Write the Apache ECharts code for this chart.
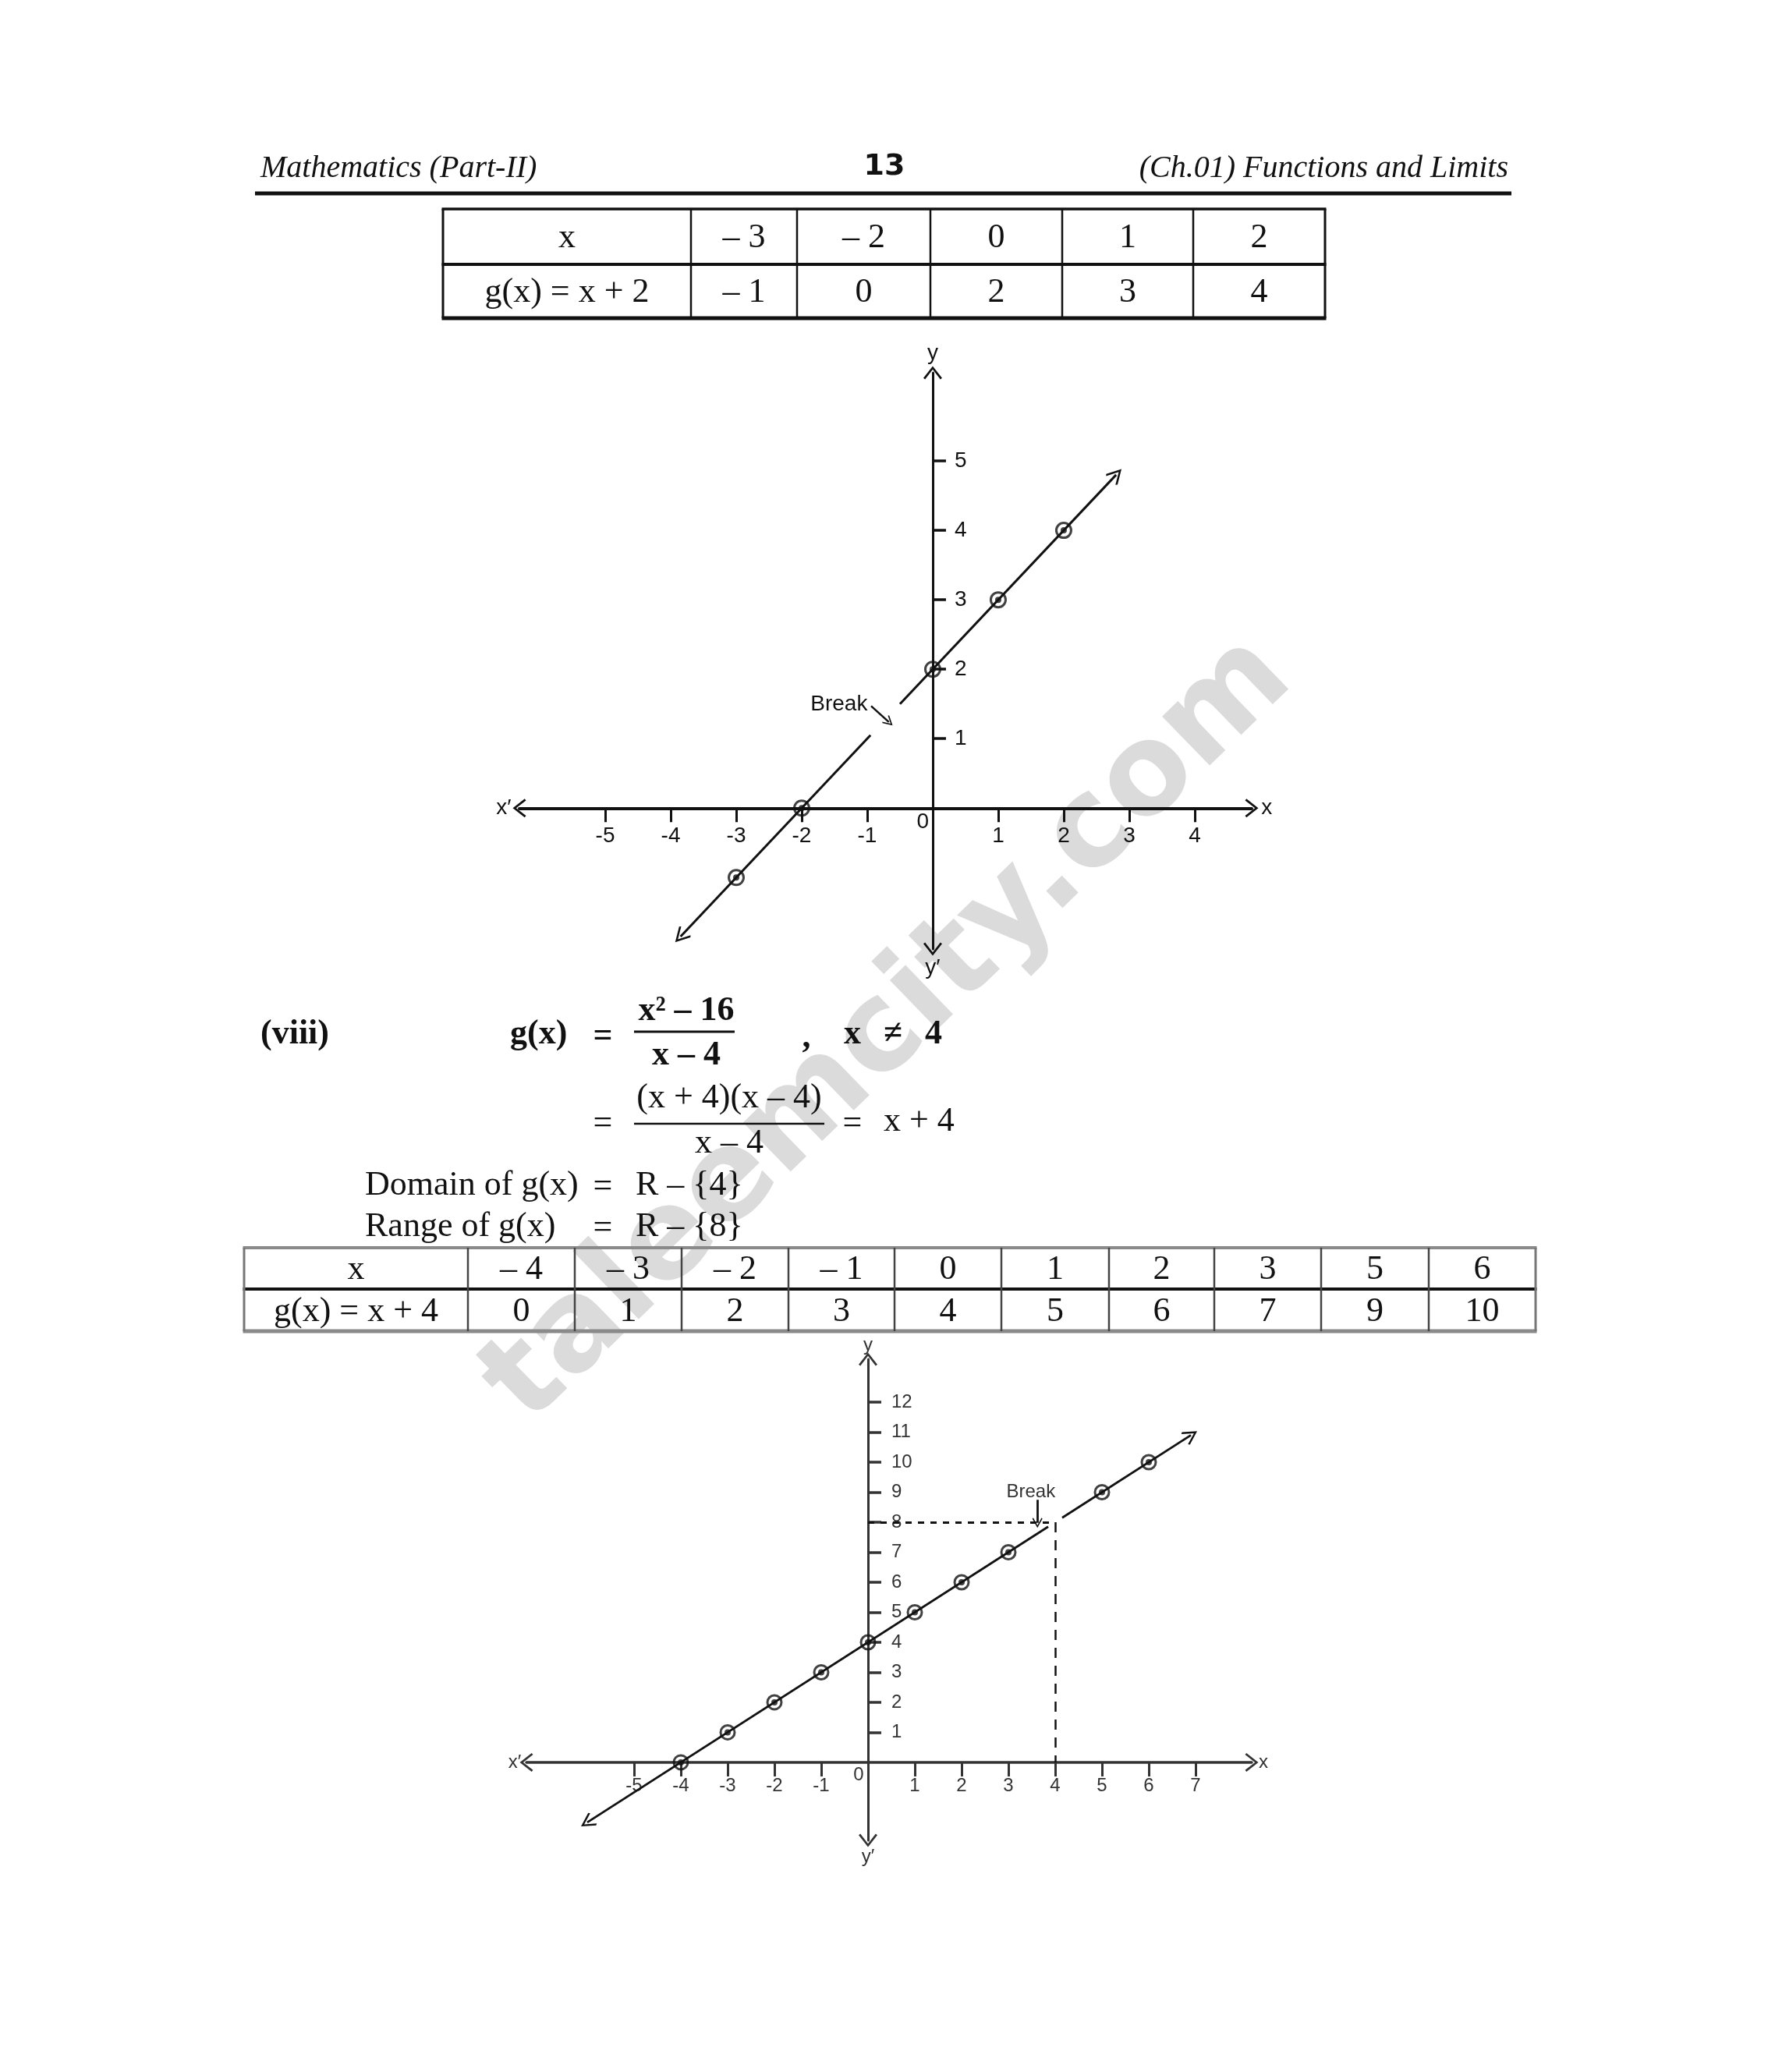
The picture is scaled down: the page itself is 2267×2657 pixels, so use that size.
<!DOCTYPE html>
<html><head><meta charset="utf-8">
<script src="https://cdn.jsdelivr.net/npm/echarts@6/dist/echarts.min.js"></script>
<style>html,body{margin:0;padding:0;background:#fff}#c{width:2267px;height:2657px}</style>
</head><body><div id="c"></div>
<script>
// ---------------- data ----------------
const table1X = [-3, -2, 0, 1, 2];
const table1G = [-1, 0, 2, 3, 4];
const table2X = [-4, -3, -2, -1, 0, 1, 2, 3, 5, 6];
const table2G = [0, 1, 2, 3, 4, 5, 6, 7, 9, 10];
const graph1XTicks = [-5, -4, -3, -2, -1, 1, 2, 3, 4];
const graph1YTicks = [1, 2, 3, 4, 5];
const graph2XTicks = [-5, -4, -3, -2, -1, 1, 2, 3, 4, 5, 6, 7];
const graph2YTicks = [1, 2, 3, 4, 5, 6, 7, 8, 9, 10, 11, 12];
const graph1LineLower = [[-3.85, -1.85], [-0.95, 1.05]];
const graph1LineUpper = [[-0.5, 1.5], [2.8, 4.8]];
const graph1BreakArrow = [[-0.94, 1.47], [-0.67, 1.24]];
const graph2LineLower = [[-6, -2], [3.85, 7.85]];
const graph2LineUpper = [[4.15, 8.15], [6.9, 10.9]];
const graph2GuideH = [[0, 8], [4, 8]];
const graph2GuideV = [[4, 8], [4, 0]];
const graph2BreakArrow = [[3.62, 8.75], [3.62, 7.98]];

// ---------------- layout / style ----------------
const serif = '"Liberation Serif","Times New Roman",serif';
const sans = '"Liberation Sans",Arial,sans-serif';
const ink = '#111';
const chev = 'path://M0,0L11,14L9,15.6L0,4L-9,15.6L-11,14Z';
const fmt = v => v < 0 ? '\u2013 ' + Math.abs(v) : String(v);

const grids = [
  {left: 666, top: 478, width: 939, height: 739, x: [-6.31, 4.87], y: [-2.03, 6.27]},
  {left: 675, top: 1743, width: 930, height: 617, x: [-7.3, 8.2], y: [-2.6, 13.43]}
];

const chart = echarts.init(document.getElementById('c'), null, {renderer: 'canvas'});

function axisX(gi, ticks, fs, margin, lw, color) {
  const gd = grids[gi];
  const off = -((0 - gd.y[0]) / (gd.y[1] - gd.y[0])) * gd.height; // put the axis on y = 0
  return {
    gridIndex: gi, type: 'value', min: gd.x[0], max: gd.x[1], position: 'bottom', offset: off,
    axisLine: {onZero: false, lineStyle: {color: color, width: lw}, symbol: [chev, chev], symbolSize: [24, 17]},
    axisTick: {show: true, customValues: ticks, length: 18, lineStyle: {color: color, width: 3}},
    axisLabel: {customValues: ticks, margin: margin, fontSize: fs, fontFamily: sans, color: color},
    splitLine: {show: false}
  };
}
function axisY(gi, ticks, fs, margin, lw, color) {
  const gd = grids[gi];
  const off = -((0 - gd.x[0]) / (gd.x[1] - gd.x[0])) * gd.width; // put the axis on x = 0
  return {
    gridIndex: gi, type: 'value', min: gd.y[0], max: gd.y[1], position: 'left', offset: off,
    axisLine: {onZero: false, lineStyle: {color: color, width: lw}, symbol: [chev, chev], symbolSize: [24, 17]},
    axisTick: {show: true, inside: true, customValues: ticks, length: 17, lineStyle: {color: color, width: 3.5}},
    axisLabel: {inside: true, customValues: ticks, margin: margin, fontSize: fs, fontFamily: sans, color: color,
                verticalAlign: 'middle'},
    splitLine: {show: false}
  };
}
function pts(xs, ys) { return xs.map((x, i) => [x, ys[i]]); }
function ring(gi, data, size) {
  return [{
    type: 'scatter', xAxisIndex: gi, yAxisIndex: gi, data: data, symbol: 'circle', symbolSize: size, z: 5,
    itemStyle: {color: 'rgba(255,255,255,0)', borderColor: ink, borderWidth: 3}, silent: true
  }, {
    type: 'scatter', xAxisIndex: gi, yAxisIndex: gi, data: data, symbol: 'circle', symbolSize: 8, z: 6,
    itemStyle: {color: ink}, silent: true
  }];
}
function seg(gi, coords, symbols, size, lw, type) {
  return {
    type: 'lines', coordinateSystem: 'cartesian2d', xAxisIndex: gi, yAxisIndex: gi, polyline: false,
    symbol: symbols, symbolSize: size, silent: true, z: 4,
    lineStyle: {color: ink, width: lw, type: type || 'solid', opacity: 1},
    data: [{coords: coords}]
  };
}

const option = {
  backgroundColor: '#fff',
  animation: false,
  grid: grids.map(gd => ({left: gd.left, top: gd.top, width: gd.width, height: gd.height})),
  xAxis: [
    axisX(0, graph1XTicks, 28, 22, 4, ink),
    axisX(1, graph2XTicks, 24, 18, 3.5, '#333')
  ],
  yAxis: [
    axisY(0, graph1YTicks, 28, 28, 3, ink),
    axisY(1, graph2YTicks, 24, 30, 3, '#333')
  ],
  series: [].concat(
    [seg(0, graph1LineLower, [chev, 'none'], 20, 3),
     seg(0, graph1LineUpper, ['none', chev], 20, 3),
     seg(0, graph1BreakArrow, ['none', chev], 13, 2.5)],
    ring(0, pts(table1X, table1G), 19),
    [seg(1, graph2LineLower, [chev, 'none'], 19, 2.8),
     seg(1, graph2LineUpper, ['none', chev], 19, 2.8),
     seg(1, graph2GuideH, ['none', 'none'], 1, 3, [8, 8]),
     seg(1, graph2GuideV, ['none', 'none'], 1, 2.5, [13, 10]),
     seg(1, graph2BreakArrow, ['none', chev], 13, 2.8)],
    ring(1, pts(table2X, table2G), 18)
  )
};
chart.setOption(option);

// ---------------- page text & tables (graphic) ----------------
const g = [];
function text(str, x, y, font, align, fill) {
  g.push({
    type: 'text', x: x, y: y, silent: true,
    style: {text: str, font: font, fill: fill || ink, align: align || 'left', verticalAlign: 'middle',
            textAlign: align || 'left', textVerticalAlign: 'middle'}
  });
}
function line(x1, y1, x2, y2, w, color) {
  g.push({type: 'line', silent: true, shape: {x1: x1, y1: y1, x2: x2, y2: y2},
          style: {stroke: color || ink, lineWidth: w}});
}

// watermark
g.push({type: 'text', x: 1140, y: 1322, rotation: 0.77, z: -10, silent: true,
  style: {text: 'taleemcity.com', font: 'bold 160px "DejaVu Sans",sans-serif', fill: 'rgba(170,170,170,0.42)',
          align: 'center', verticalAlign: 'middle', textAlign: 'center', textVerticalAlign: 'middle'}});

// header
text('Mathematics (Part-II)', 334, 216, 'italic 40px ' + serif, 'left');
text('13', 1134, 214, 'bold 38px "DejaVu Sans",sans-serif', 'center');
text('(Ch.01) Functions and Limits', 1934, 216, 'italic 40px ' + serif, 'right');
line(327, 248, 1938, 248, 5);

// table 1
(function () {
  const cols = [568, 886, 1022, 1193, 1362, 1530, 1699];
  const rows = [268, 339, 408];
  const r1 = ['x'].concat(table1X.map(fmt));
  const r2 = ['g(x) = x + 2'].concat(table1G.map(fmt));
  line(cols[0] - 1.5, rows[0], cols[6] + 1.5, rows[0], 3.5);
  line(cols[0] - 1.5, rows[1], cols[6] + 1.5, rows[1], 4);
  line(cols[0] - 1.5, rows[2], cols[6] + 1.5, rows[2], 5);
  cols.forEach((c, i) => line(c, rows[0], c, rows[2], (i === 0 || i === 6) ? 3 : 2.5));
  for (let i = 0; i < 6; i++) {
    const cx = (cols[i] + cols[i + 1]) / 2;
    text(r1[i], cx, (rows[0] + rows[1]) / 2 + 2, '44px ' + serif, 'center');
    text(r2[i], cx, (rows[1] + rows[2]) / 2 + 2, '44px ' + serif, 'center');
  }
})();

// equations
const bold = 'bold 44px ' + serif, reg = '44px ' + serif;
text('(viii)', 334, 1327, bold, 'left');
text('g(x)', 654, 1327, bold, 'left');
text('=', 773, 1330, bold, 'center');
text('x\u00b2 \u2013 16', 880, 1297, bold, 'center');
line(813, 1323, 942, 1323, 3);
text('x \u2013 4', 880, 1354, bold, 'center');
text(',', 1034, 1332, bold, 'center');
text('x', 1093, 1327, bold, 'center');
text('\u2260', 1145, 1327, bold, 'center');
text('4', 1197, 1327, bold, 'center');
text('=', 773, 1441, reg, 'center');
text('(x + 4)(x \u2013 4)', 935, 1408, reg, 'center');
line(813, 1441, 1057, 1441, 2.5);
text('x \u2013 4', 935, 1466, reg, 'center');
text('=', 1093, 1441, reg, 'center');
text('x + 4', 1133, 1438, reg, 'left');
text('Domain of g(x)', 468, 1520, reg, 'left');
text('=', 773, 1522, reg, 'center');
text('R \u2013 {4}', 815, 1520, reg, 'left');
text('Range of g(x)', 468, 1573, reg, 'left');
text('=', 773, 1575, reg, 'center');
text('R \u2013 {8}', 815, 1573, reg, 'left');

// table 2
(function () {
  const cols = [313, 600, 737, 874, 1011, 1147, 1284, 1422, 1557, 1694, 1832, 1969];
  const rows = [1600, 1653, 1707];
  const r1 = ['x'].concat(table2X.map(fmt));
  const r2 = ['g(x) = x + 4'].concat(table2G.map(fmt));
  line(cols[0] - 1.5, rows[0], cols[11] + 1.5, rows[0], 4, '#8a8a8a');
  line(cols[0] - 1.5, rows[1], cols[11] + 1.5, rows[1], 4, ink);
  line(cols[0] - 1.5, rows[2], cols[11] + 1.5, rows[2], 5, '#8a8a8a');
  cols.forEach((c, i) => line(c, rows[0], c, rows[2], (i === 0 || i === 11) ? 3 : 2.5, (i === 0 || i === 11) ? '#777' : '#444'));
  for (let i = 0; i < 11; i++) {
    const cx = (cols[i] + cols[i + 1]) / 2;
    text(r1[i], cx, (rows[0] + rows[1]) / 2 + 2, '44px ' + serif, 'center');
    text(r2[i], cx, (rows[1] + rows[2]) / 2 + 2, '44px ' + serif, 'center');
  }
})();

// graph annotations (placed through the chart's own coordinate systems)
function ann(gi, str, xy, fs) {
  const p = chart.convertToPixel({gridIndex: gi}, xy);
  text(str, p[0], p[1], fs + 'px ' + sans, 'center', gi === 0 ? ink : '#333');
}
ann(0, 'y', [0, 6.55], 28);
ann(0, 'y\u2032', [0, -2.3], 28);
ann(0, 'x\u2032', [-6.55, 0], 28);
ann(0, 'x', [5.1, 0], 28);
ann(0, '0', [-0.15, -0.2], 28);
ann(0, 'Break', [-1.43, 1.49], 28);
ann(1, 'y', [0, 13.9], 24);
ann(1, 'y\u2032', [0, -3.15], 24);
ann(1, 'x\u2032', [-7.55, 0], 24);
ann(1, 'x', [8.45, 0], 24);
ann(1, '0', [-0.2, -0.42], 24);
ann(1, 'Break', [3.48, 9.0], 24);

chart.setOption({graphic: {elements: g}});
</script>
</body></html>
